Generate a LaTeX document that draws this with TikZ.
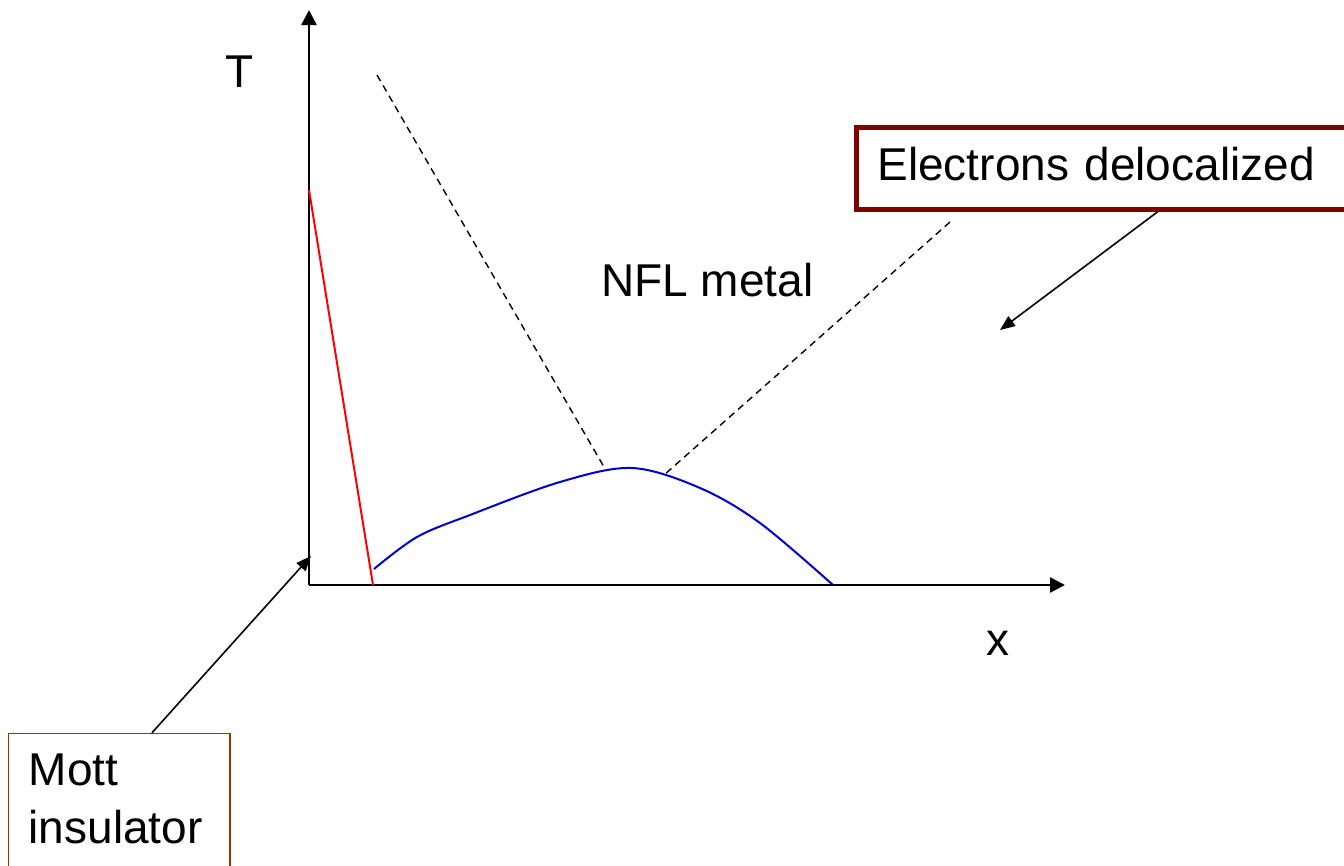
\documentclass[tikz,border=0pt]{standalone}
\usepackage{fontspec}
\setmainfont{Liberation Sans}
\usetikzlibrary{arrows.meta}
\definecolor{boxred}{HTML}{800000}
\definecolor{boxbrown}{HTML}{993300}
\definecolor{curveblue}{HTML}{0000CC}
\begin{document}
\begin{tikzpicture}[x=1pt,y=-1pt,
  lbl/.style={font=\fontsize{46pt}{58pt}\selectfont, inner sep=0pt, anchor=base west},
  axis/.style={line width=2.5pt, -{Triangle[length=15pt,width=15pt]}},
  pointer/.style={line width=1.6pt, -{Triangle[length=15pt,width=12pt]}},
  phase/.style={line width=1.4pt, dash pattern=on 7pt off 5pt}]
\useasboundingbox (0,0) rectangle (1344,865);
\clip (0,0) rectangle (1344,865);
% axes
\coordinate (O) at (309,585);
\coordinate (Ytop) at (309,10);
\coordinate (Xend) at (1065,585);
\draw[axis] (O) -- (Ytop);
\draw[axis] (O) -- (Xend);
\node[lbl] (T) at (225,87) {T};
\node[lbl] (xl) at (986,655) {x};
% red line
\coordinate (r1) at (309,190);
\coordinate (r2) at (373,585);
\draw[red, line width=2pt] (r1) -- (r2);
% blue curve
\draw[curveblue, line width=2pt] plot[smooth, tension=0.55] coordinates {(374,569) (417,537) (470,515) (560,482) (632,468) (700,488) (760,523) (833,585)};
% dashed lines
\coordinate (d1a) at (377,75);
\coordinate (d1b) at (604,467);
\coordinate (d2a) at (950,222);
\coordinate (d2b) at (664,475);
\draw[phase] (d1a) -- (d1b);
\draw[phase] (d2a) -- (d2b);
\node[lbl] (nfl) at (601,296) {NFL metal};
% Electrons box
\node[draw=boxred, line width=5pt, anchor=north west, inner xsep=21.5pt, inner ysep=0pt,
      text width=470pt, align=left, text height=53.5pt, text depth=28.5pt,
      font=\fontsize{46pt}{58pt}\selectfont] (eb) at (853.5,124.5) {Electrons delocalized};
\coordinate (ebs) at (1158,0 |- eb.south);
\coordinate (etip) at (1000,330);
\draw[pointer] (ebs) -- (etip);
% Mott box
\node[draw=boxbrown, line width=1.5pt, anchor=north west, inner xsep=20.25pt, inner ysep=0pt,
      text width=181pt, align=left, text height=52.25pt, text depth=120pt,
      font=\fontsize{46pt}{58pt}\selectfont] (mb) at (7.75,732.75) {Mott\\insulator};
\coordinate (mbs) at (152,0 |- mb.north);
\coordinate (mtip) at (311,556);
\draw[pointer] (mbs) -- (mtip);
\end{tikzpicture}
\end{document}
